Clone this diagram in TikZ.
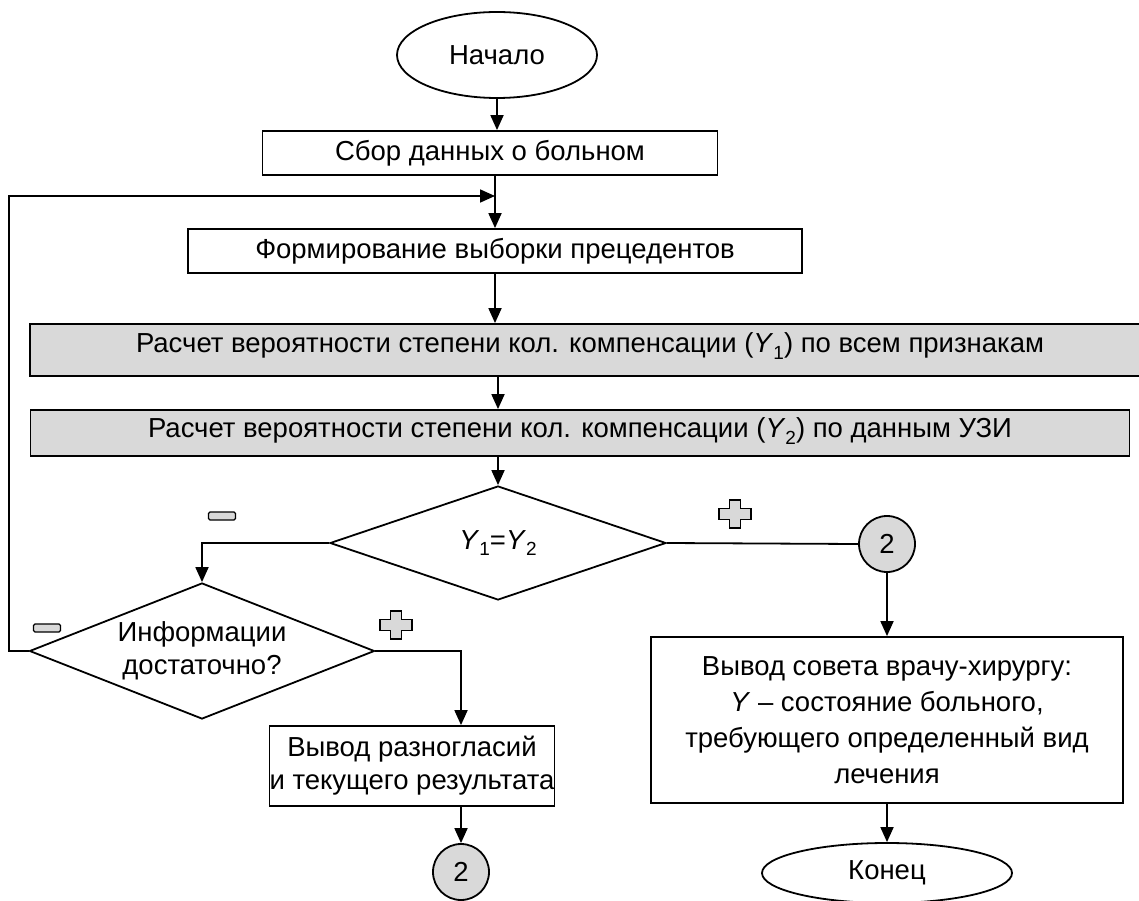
\documentclass[tikz,border=0pt]{standalone}
\usepackage{fontspec}
\setmainfont{Liberation Sans}
\usetikzlibrary{shapes.geometric,arrows.meta}
\definecolor{boxgray}{RGB}{217,217,217}
\newcommand{\Yi}[1]{\textit{Y}\raisebox{-0.45ex}{\fontsize{19}{19}\selectfont #1}}

\begin{document}
\begin{tikzpicture}[x=1pt,y=-1pt,
  every node/.style={font=\fontsize{27.5}{33}\selectfont,line width=1.8pt,inner sep=0pt},
  proc/.style={rectangle,draw,align=center},
  calcbox/.style={rectangle,draw,fill=boxgray,align=center},
  term/.style={ellipse,draw},
  cond/.style={diamond,draw,align=center},
  conn/.style={circle,draw,fill=boxgray,minimum size=56pt},
  arr/.style={line width=1.8pt,-{Triangle[length=15pt,width=13pt]}},
  ln/.style={line width=1.8pt},
  signminus/.pic={\draw[line width=1.3pt,fill=boxgray,rounded corners=1.5pt] (-13.5,-4) rectangle (13.5,4);},
  signplus/.pic={\draw[line width=1.3pt,fill=boxgray] (-5.5,-14)--(5.5,-14)--(5.5,-5.5)--(16,-5.5)--(16,5.5)--(5.5,5.5)
     --(5.5,14)--(-5.5,14)--(-5.5,5.5)--(-16,5.5)--(-16,-5.5)--(-5.5,-5.5)--cycle;}
]
\useasboundingbox (0,0) rectangle (1139,901);

 \node at (497,55) [term,minimum width=200pt,minimum height=86pt] (start) {Начало};
 \node at (490,153) [proc,minimum width=455pt,minimum height=44pt] (sbor) {Сбор данных о больном};
 \node at (495,251) [proc,minimum width=614pt,minimum height=44pt] (form) {Формирование выборки прецедентов};
 \node at (590,350) [calcbox,minimum width=1120pt,minimum height=52pt,text depth=14pt] (calc1)
   {Расчет вероятности степени кол. компенсации (\Yi{1}) по всем признакам};
 \node at (580,433) [calcbox,minimum width=1099pt,minimum height=46pt,text depth=11pt] (calc2)
   {Расчет вероятности степени кол. компенсации (\Yi{2}) по данным УЗИ};
 \node at (498,543) [cond,aspect=2.9,minimum width=336pt,minimum height=114pt] (cmp) {\Yi{1}=\Yi{2}};
 \node at (202,651) [cond,aspect=2.5,minimum width=345pt,minimum height=136pt] (info) {Информации\\достаточно?};
 \node at (412,766) [proc,minimum width=179pt,minimum height=80pt] (disagree) {Вывод разногласий\\и текущего результата};
 \node at (461,872) [conn] (con2) {2};
 \node at (887,544) [conn] (con1) {2};
 \node at (887,720) [proc,minimum width=472pt,minimum height=166pt,font=\fontsize{27.5}{36}\selectfont] (advice)
   {Вывод совета врачу-хирургу:\\\textit{Y} -- состояние больного,\\требующего определенный вид\\лечения};
 \node at (887,873) [term,minimum width=250pt,minimum height=60pt] (finish) {Конец};
 \coordinate (loop) at (495,196);

 % signs
 \pic at (222,516) {signminus}; \pic at (735,514) {signplus};
 \pic at (47,628) {signminus};  \pic at (396,625) {signplus};

 \draw[arr] (start.south) -- (start.south |- sbor.north);
 \draw[arr] (form.north |- sbor.south) -- (form.north);
 \draw[arr] (info.west) -- ++(-20,0) |- (loop);
 \draw[arr] (form.south) -- (form.south |- calc1.north);
 \draw[arr] (cmp.north |- calc1.south) -- (cmp.north |- calc2.north);
 \draw[arr] (cmp.north |- calc2.south) -- (cmp.north);
 \draw[arr] (cmp.west) -| (info.north);
 \draw[ln] (cmp.east) -- (con1.west);
 \draw[arr] (con1.south) -- (advice.north);
 \draw[arr] (advice.south) -- (finish.north);
 \draw[arr] (info.east) -| (con2 |- disagree.north);
 \draw[arr] (con2 |- disagree.south) -- (con2.north);
\end{tikzpicture}
\end{document}
